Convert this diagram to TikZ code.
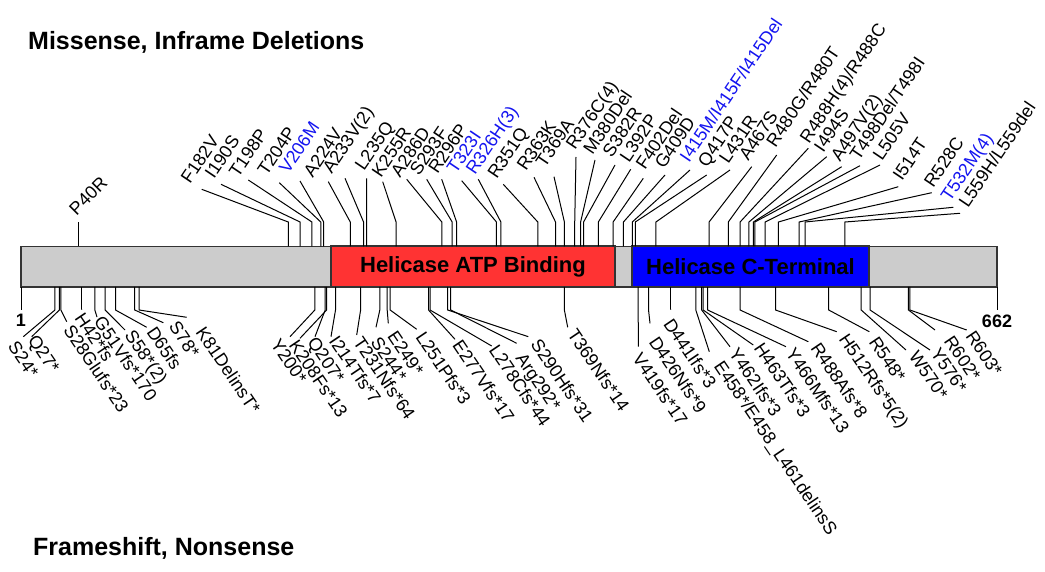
\documentclass[tikz,border=0pt]{standalone}
\usepackage{fontspec}
\setmainfont{Liberation Sans}
\usetikzlibrary{positioning}
\definecolor{bargray}{RGB}{204,204,204}
\definecolor{atpred}{RGB}{255,51,51}
\definecolor{ctblue}{RGB}{0,0,255}
\definecolor{mutblue}{RGB}{20,20,240}
\newcommand\lblfont{\fontsize{18}{18}\selectfont}
\tikzset{
  stem/.style={line width=1pt},
  uplbl/.style={anchor=base west, rotate=56, inner sep=0pt, font=\lblfont},
  dnlbl/.style={anchor=base west, rotate=-56, inner sep=0pt, font=\lblfont},
  dombox/.style={draw=black!80, line width=1.5pt, minimum height=41pt, inner sep=0pt,
    font=\bfseries\fontsize{22}{22}\selectfont},
  titletext/.style={anchor=base west, inner sep=0pt, font=\bfseries\fontsize{25}{25}\selectfont},
}
\begin{document}
\begin{tikzpicture}[x=1pt,y=-1pt]
    \useasboundingbox (0,0) rectangle (1045,572);
    % titles
    \node[titletext] (top) at (28,50) {Missense, Inframe Deletions};
    \node[titletext] (bot) at (33,555) {Frameshift, Nonsense};

    % protein bar and domains
    \draw[fill=bargray, draw=black!80, line width=1.5pt] (21,246.5) rectangle (997,287);
    \node[dombox, fill=atpred, minimum width=284pt] (atp) at (473,266.75) {Helicase ATP Binding};
    \node[dombox, fill=ctblue, minimum width=237pt] (cterm) at (750.5,266.75) {Helicase C-Terminal};

    % ends of the protein
    \draw[stem] (21,287) -- (21,310) node[below=4pt, inner sep=0pt, font=\bfseries\lblfont] (first) {1};
    \draw[stem] (997,287) -- (997,310) node[below=4pt, inner sep=0pt, font=\bfseries\lblfont] (last) {662};

    % missense, inframe deletions
    \coordinate (pb) at (78.6,246.5);
    \coordinate (pe) at (78.6,222);
    \draw[stem] (pb) -- (pe);
    \node[uplbl, rotate=-11] (p40) at (76.5,216.5) {P40R};
    \foreach \r/\ex/\ey/\bx/\by/\txt/\c [count=\i] in {
        182/201.7/189.3/190/185/F182V/black,
        190/221/184.3/214/180/I190S/black,
        198/248.3/180/238.3/178.3/T198P/black,
        204/279.3/182.7/266.7/176.7/T204P/black,
        206/300/181/288.3/175/V206M/mutblue,
        224/328.3/181.7/312.7/178.3/A224V/black,
        233/345/178.3/331.7/175/A233V(2)/black,
        235/366.5/178.3/364/171.7/L235Q/black,
        255/382.7/181.7/381/178.3/K255R/black,
        286/406.7/179.3/400/178.3/A286D/black,
        293/426.7/179.3/419/177/S293F/black,
        296/441.7/179.3/437.5/175/R296P/black,
        323/461.7/180.7/456/175/T323I/mutblue,
        326/478.3/179.3/475/176/R326H(3)/mutblue,
        351/503.3/184.3/496.7/180/R351Q/black,
        363/534/177.3/526/172/R363K/black,
        369/554/176.7/545/168.3/T369A/black,
        376/576/157/575/151/R376C(4)/black,
        380/595/160/592.5/156/M380Del/black,
        382/615/165/611.7/158.3/S382R/black,
        392/630.7/169.3/629/163.3/L392P/black,
        402/643.3/178.3/645/171/F402Del/black,
        409/665/175/664/170/G409D/black,
        415/690/170/689/163.3/{I415M/I415F/I415Del}/mutblue,
        417/706.7/175/707/168.3/Q417P/black,
        431/730/170/728.3/165/L431R/black,
        467/751.7/166.7/748.3/161.7/A467S/black,
        480/776.7/155/775.5/148.3/{R480G/R480T}/black,
        488/808.3/148.3/809/144.5/{R488H(4)/R488C}/black,
        494/826.7/156.7/823.3/153.3/I494S/black,
        497/841.7/166.7/840/162.5/A497V(2)/black,
        498/860/165.7/859/161.5/{T498Del/T498I}/black,
        505/880/165/882/162/L505V/black,
        514/898.3/186.7/902/181.7/I514T/black,
        528/931.7/192.7/933.3/189/R528C/black,
        532/953.3/207.3/950/203/T532M(4)/mutblue,
        559/960/213.3/968/209/{L559H/L559del}/black}{
        \pgfmathsetmacro\px{21+(\r-1)*1.4766}
        \coordinate (mb\i) at (\px,246.5);
        \coordinate (me\i) at (\px,222);
        \coordinate (mx\i) at (\ex,\ey);
        \node[uplbl, text=\c] (ml\i) at (\bx,\by) {\txt};
        \draw[stem] (mb\i) -- (me\i) -- (mx\i);
    }

    % frameshift, nonsense
    \foreach \r/\ex/\ey/\bx/\by/\txt [count=\i] in {
        24/23.3/336.7/7.3/346.7/S24*,
        27/31.7/336.7/27.3/340/Q27*,
        28/66.7/321.7/62.7/330/S28Glufs*23,
        42/81.5/310/74/318.3/H42*fs,
        51/97/317/93.3/321.7/G51Vfs*170,
        58/125/330/124/335/S58*(2),
        65/146.7/327.3/146/332/D65fs,
        78/163.3/322.7/168.3/326.7/S78*,
        81/186.7/317.3/195/332/K81DelinsT*,
        200/290/336.7/270/344/Y200*,
        208/300/338.3/288.3/345/K208Fs*13,
        207/315/336.7/306.7/342/Q207*,
        214/331/336.7/328.3/341/I214Tfs*7,
        231/356.7/335/352.5/342/T231Nfs*64,
        244/376/327.3/370/342/S244*,
        249/388.3/323.3/386.7/336/E249*,
        251/416.7/329.3/415/337/L251Pfs*3,
        277/455/339.3/451.7/345/E277Vfs*17,
        278/491.7/346/488.3/350/L278Cfs*44,
        292/516.7/343.3/515/358/Arg292*,
        290/528.3/336.7/530/344/S290Hfs*31,
        369/567.7/327.3/566.7/334/T369Nfs*14,
        419/638.3/346.7/631.7/358/V419fs*17,
        426/650/323.3/648.3/342/D426Nfs*9,
        441/670.7/310/662.7/324/D441Ifs*3,
        458/709.3/351.7/713.3/366/{E458*/E458\_L461delinsS},
        462/730/346.7/728.3/353/Y462Ifs*3,
        463/753.3/345/753.3/348/H463Tfs*3,
        466/786/346.7/785/353/Y466Mfs*13,
        488/808.3/341.7/810/348/R488Afs*8,
        512/836.7/331.7/838.3/339/H512Rfs*5(2),
        548/869.3/331.7/868.3/342/R548*,
        570/906/350/908.3/356/W570*,
        576/930/350/930/353/Y576*,
        602/935/330/943.3/341/R602*,
        603/966.7/330/965/336/R603*}{
        \pgfmathsetmacro\px{21+(\r-1)*1.4766}
        \coordinate (fb\i) at (\px,287);
        \coordinate (fe\i) at (\px,310);
        \coordinate (fx\i) at (\ex,\ey);
        \node[dnlbl] (fl\i) at (\bx,\by) {\txt};
        \draw[stem] (fb\i) -- (fe\i) -- (fx\i);
    }
\end{tikzpicture}
\end{document}
